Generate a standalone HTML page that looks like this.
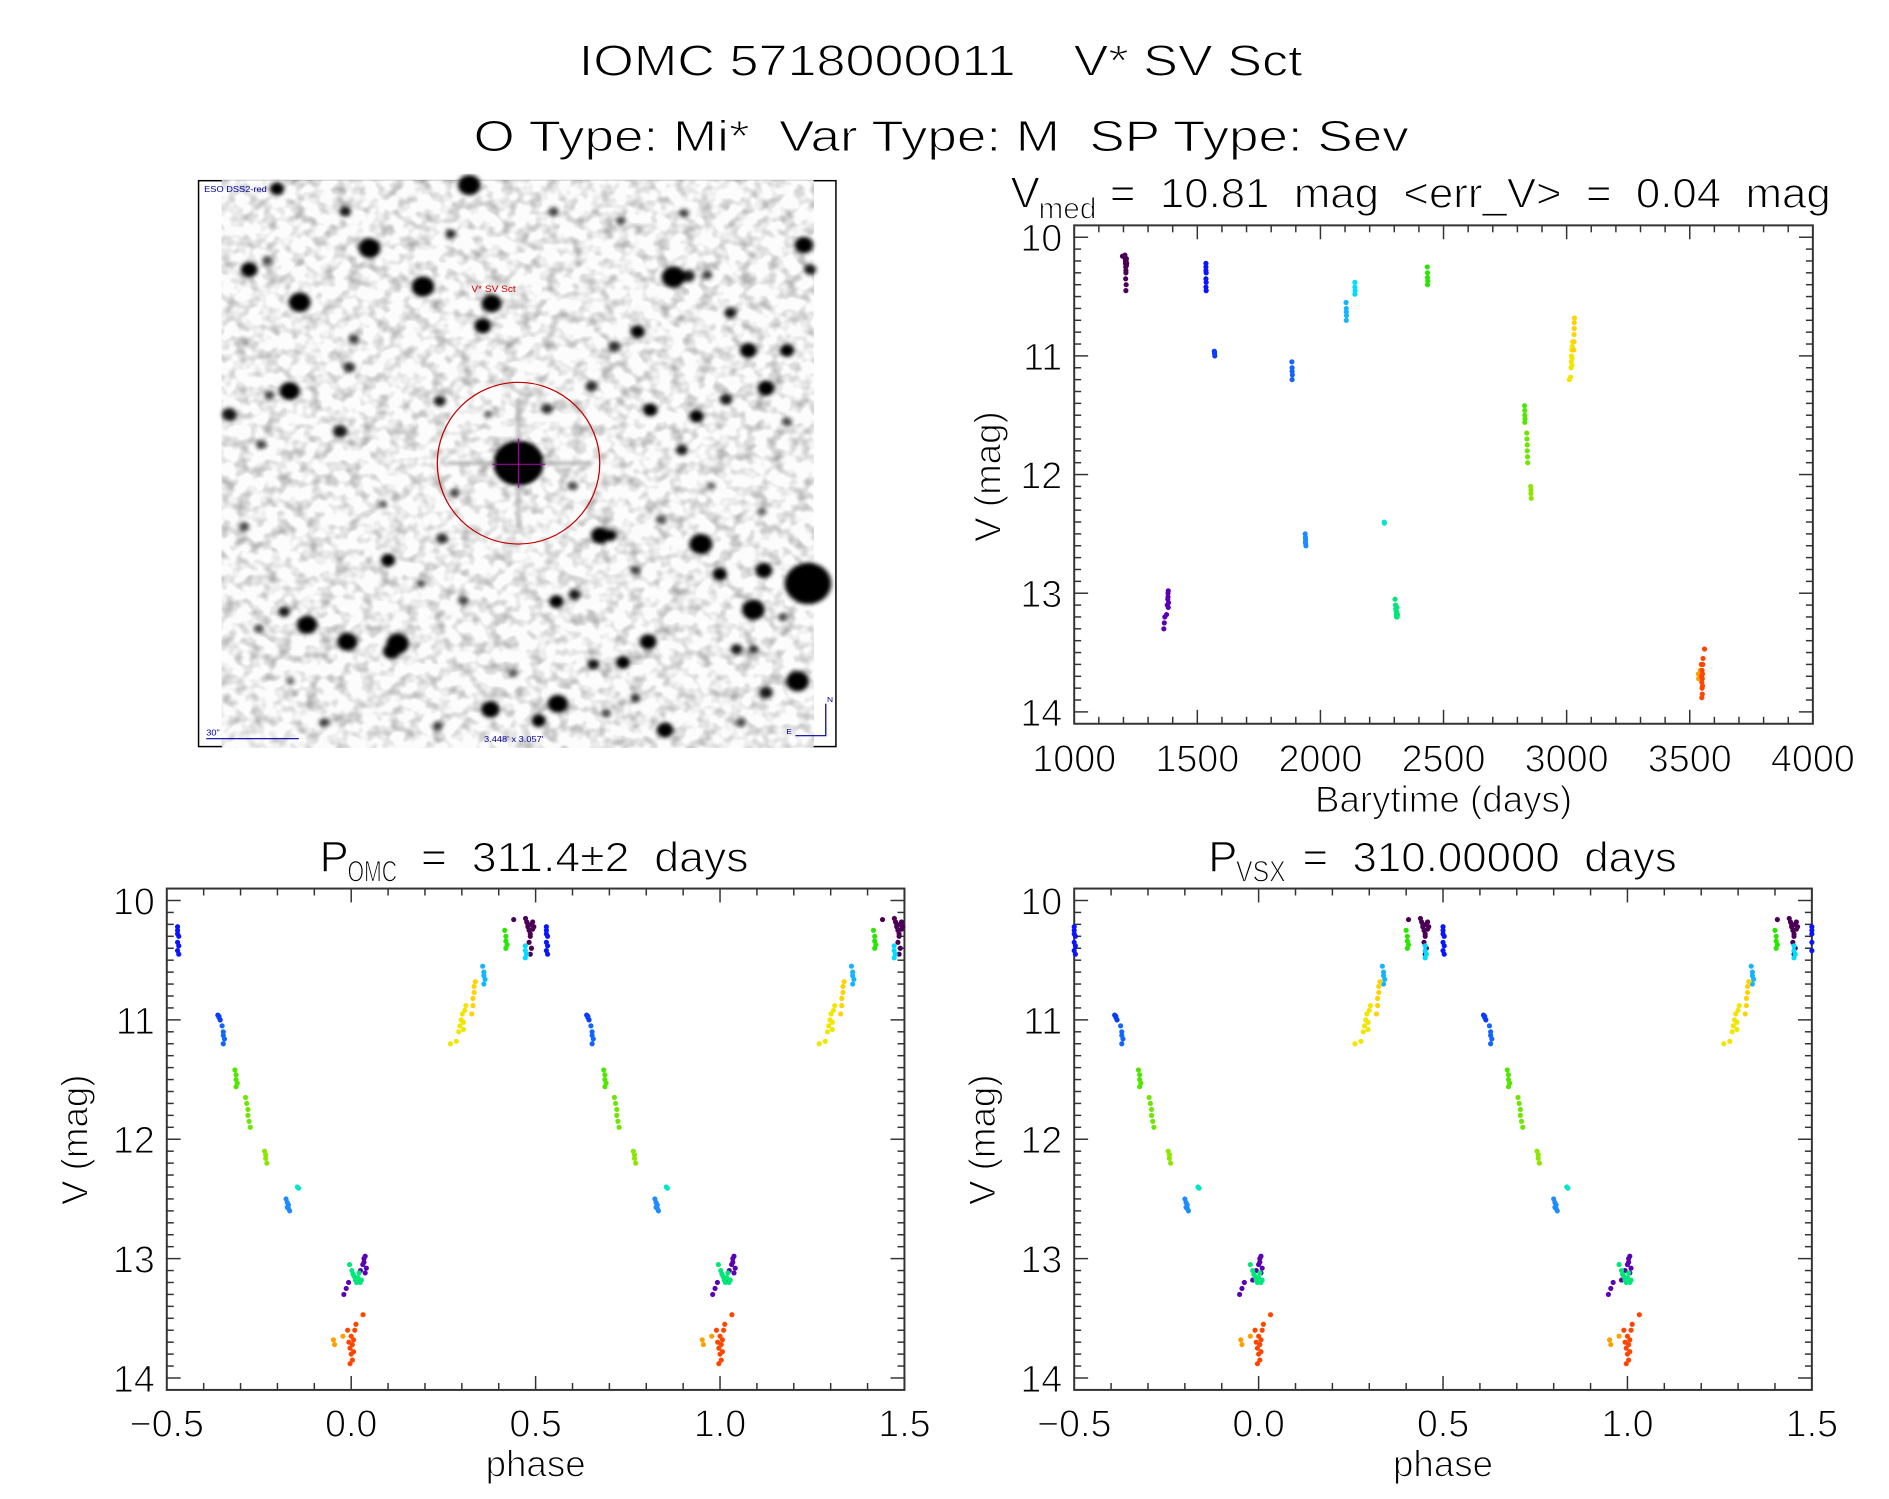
<!DOCTYPE html>
<html><head><meta charset="utf-8"><style>
html,body{margin:0;padding:0;background:#fff;}
svg text{font-family:"Liberation Sans",sans-serif;fill:#000;white-space:pre;stroke:#fff;stroke-width:1.1px;paint-order:normal;}
</style></head><body>
<svg id="root" width="1889" height="1494" viewBox="0 0 1889 1494" xmlns="http://www.w3.org/2000/svg">
<rect x="0" y="0" width="1889" height="1494" fill="#fff"/>
<g id="scaler" transform="scale(0.9928)">
<text x="583" y="76" font-size="44" textLength="729" lengthAdjust="spacingAndGlyphs">IOMC 5718000011    V* SV Sct</text>
<text x="477" y="152" font-size="44" textLength="942" lengthAdjust="spacingAndGlyphs">O Type: Mi*  Var Type: M  SP Type: Sev</text>

<g>
<rect x="200" y="182" width="642" height="570" fill="none" stroke="#000" stroke-width="1.5"/>
<svg id="sky" x="195" y="175" width="655" height="585" viewBox="0 0 1545 1545" preserveAspectRatio="none">
<defs><filter id="bl" x="-50%" y="-50%" width="200%" height="200%"><feGaussianBlur stdDeviation="6"/></filter>
<filter id="bl2" x="-50%" y="-50%" width="200%" height="200%"><feGaussianBlur stdDeviation="5"/></filter>
<filter id="tex" x="0" y="0" width="100%" height="100%"><feTurbulence type="fractalNoise" baseFrequency="0.03" numOctaves="2" seed="7"/><feColorMatrix type="matrix" values="0 0 0 0 0  0 0 0 0 0  0 0 0 0 0  0.7 0 0 0 -0.3"/></filter></defs>
<rect x="67" y="17" width="1406" height="1510" fill="#fcfcfc"/>
<rect x="67" y="17" width="1406" height="1510" fill="#000" filter="url(#tex)"/>
<g id="stars" filter="url(#bl)"></g>
<g filter="url(#bl2)">
<rect x="768" y="600" width="8" height="340" fill="#aaa"/>
<rect x="600" y="766" width="340" height="8" fill="#aaa"/>
<circle cx="772" cy="770" r="60" fill="#000"/>
</g>
<line x1="772" y1="705" x2="772" y2="835" stroke="#a000a0" stroke-width="3"/>
<line x1="710" y1="773" x2="835" y2="773" stroke="#a000a0" stroke-width="3"/>
<ellipse cx="772" cy="770" rx="193" ry="215" fill="none" stroke="#c00000" stroke-width="3"/>
<text x="660" y="315" font-size="24" style="fill:#d00000;stroke:none">V* SV Sct</text>
<text x="25" y="48" font-size="22" style="fill:#0000a0;stroke:none">ESO DSS2-red</text>
<text x="30" y="1495" font-size="22" style="fill:#0000a0;stroke:none">30"</text>
<line x1="30" y1="1503" x2="250" y2="1503" stroke="#0000a0" stroke-width="3"/>
<text x="690" y="1512" font-size="22" style="fill:#0000a0;stroke:none">3.448' x 3.057'</text>
<polyline points="1430,1495 1502,1495 1502,1410" fill="none" stroke="#0000a0" stroke-width="3"/>
<text x="1505" y="1405" font-size="20" style="fill:#0000a0;stroke:none">N</text>
<text x="1408" y="1490" font-size="20" style="fill:#0000a0;stroke:none">E</text>
</svg>
</g>
<g id="plots"></g>
</g>
</svg>
<script>
// ---- light curve data (time in days, V mag, color index) ----
const times=[1196,1206,1207,1208,1208,1209,1210,1210,1211,1212,1209,1211,1210,1212,1213,
1364,1366,1368,1375,1378,1380,1381,1382,1383,1382,1381,
1535,1535,1535,1536,1535,1536,1535,1536,
1569,1570,1571,1570,
1884,1885,1885,1886,1885,
1938,1939,1940,1940,1941,1939,
2104,2105,2105,2106,2105,
2140,2140,2141,2140,
2259,2260,
2303,2305,2306,2307,2308,2309,2310,2311,2312,2313,
2434,2435,2435,2436,2435,
2829,2830,2830,2831,2830,
2838,2839,2840,2840,2841,2842,
2854,2855,2855,2856,
3011,3016,3018,3019,3020,3021,3022,3023,3024,3022,
3029,3030,3030,3031,3031,3032,
3535,3536,3543,
3547,3548,3549,3550,3550,3551,3551,3552,3553,3552,3549,3554,3560];
const mags=[10.16,10.15,10.18,10.2,10.22,10.25,10.28,10.3,10.2,10.24,10.35,10.4,10.45,10.18,10.22,
13.3,13.25,13.2,13.18,13.1,13.05,13.0,12.98,13.08,13.12,13.03,
10.22,10.25,10.28,10.3,10.35,10.38,10.42,10.45,
10.96,10.98,11.0,10.97,
11.05,11.1,11.13,11.16,11.2,
12.5,12.53,12.55,12.58,12.6,12.57,
10.55,10.6,10.63,10.66,10.7,
10.38,10.42,10.45,10.48,
12.4,12.41,
13.05,13.1,13.13,13.15,13.18,13.2,13.16,13.12,13.2,13.18,
10.25,10.3,10.34,10.37,10.4,
11.42,11.46,11.5,11.53,11.56,
11.65,11.7,11.75,11.8,11.85,11.9,
12.1,12.13,12.16,12.2,
11.2,11.18,11.1,11.05,11.0,10.95,11.02,10.92,10.88,11.08,
10.95,10.88,10.82,10.77,10.72,10.68,
13.68,13.72,13.65,
13.6,13.7,13.75,13.65,13.8,13.72,13.85,13.68,13.6,13.78,13.88,13.55,13.47];
const colorIdx=[0,0,0,0,0,0,0,0,0,0,0,0,0,0,0,
1,1,1,1,1,1,1,1,1,1,1,
2,2,2,2,2,2,2,2,
3,3,3,3,
4,4,4,4,4,
5,5,5,5,5,5,
6,6,6,6,6,
7,7,7,7,
8,8,
9,9,9,9,9,9,9,9,9,9,
10,10,10,10,10,
11,11,11,11,11,
12,12,12,12,12,12,
13,13,13,13,
14,14,14,14,14,14,14,14,14,14,
15,15,15,15,15,15,
16,16,16,
17,17,17,17,17,17,17,17,17,17,17,17,17];
const palette=["#4b0055","#5a00b4","#0a14ff","#0a3cff","#1464ff","#1e8cff","#14b4ff","#00dcff","#00e6c8","#00e678","#28e600","#50e600","#6ee600","#8ce600","#f0e600","#ffd200","#ffa000","#ff4600"];
const periodOMC=311.4;
const periodVSX=310.0;
const epoch=3550;
const timeTicks=[1000,1500,2000,2500,3000,3500,4000];
const magTicks=[10,11,12,13,14];
const phaseTicks=[-0.5,0,0.5,1.0,1.5];
const phaseTickLabels=["\u22120.5","0.0","0.5","1.0","1.5"];

// ---- star field (finder image, zoom coords) ----
const stars=[[772,770,30,1],[418,198,26,1],[545,300,27,1],[252,342,26,1],[708,345,24,1],[687,405,20,1],[132,255,20,1],[175,230,12,.7],[228,578,24,1],[180,590,12,.7],[1140,275,28,1],[1175,272,16,.9],[1450,190,22,1],[1318,470,20,1],[1055,420,17,1],[1360,570,20,1],[1265,600,15,.9],[1085,628,17,1],[1195,645,17,1],[585,605,14,.9],[348,685,17,.9],[966,962,22,1],[990,962,15,1],[1205,985,27,1],[1250,1065,17,1],[1355,1055,20,1],[1460,1090,55,1],[1330,1160,27,1],[270,1200,24,1],[365,1245,24,1],[485,1250,27,1],[470,1270,20,1],[462,1028,17,1],[862,1138,17,1],[905,1120,14,.9],[1080,1245,20,1],[1020,1300,17,1],[950,1305,14,.9],[1435,1350,27,1],[705,1425,22,1],[865,1410,24,1],[820,1455,17,1],[1120,1480,20,1],[655,30,27,1],[198,40,17,1],[360,100,14,.9],[610,160,12,.8],[85,640,17,.9],[1160,735,14,.9],[1410,470,17,1],[215,1165,14,.9],[1290,1265,14,.9],[1050,1395,12,.8],[1000,460,14,.8],[370,515,14,.8],[380,440,12,.7],[1275,370,14,.9],[1330,1265,12,.8],[1220,270,12,.7],[1015,125,12,.7],[855,100,12,.7],[1165,105,12,.7],[1465,255,14,.9],[945,565,14,.8],[1360,1380,16,.9],[155,1210,12,.7],[590,970,14,.8],[1110,920,12,.7],[640,1135,12,.7],[310,1460,12,.7],[580,1470,12,.7],[980,1435,12,.7],[120,940,12,.7],[1050,1055,12,.7],[1410,660,12,.7],[1300,1460,12,.7],[160,720,12,.7],[900,830,12,.7],[620,850,12,.7],[840,625,14,.8],[700,640,10,.6],[230,1350,10,.6],[760,1330,10,.6],[450,880,10,.6],[1230,830,10,.6],[1350,900,10,.6],[540,1090,11,.7],[1400,1180,11,.7]];
const NS='http://www.w3.org/2000/svg';
const sg=document.getElementById('stars');
stars.forEach(s=>{const c=document.createElementNS(NS,'circle');
c.setAttribute('cx',s[0]);c.setAttribute('cy',s[1]);c.setAttribute('r',s[2]);
c.setAttribute('fill','#000');c.setAttribute('fill-opacity',s[3]);


sg.appendChild(c);});

const P=document.getElementById('plots');
function mk(tag,attrs,parent){const e=document.createElementNS(NS,tag);for(const k in attrs)e.setAttribute(k,attrs[k]);(parent||P).appendChild(e);return e;}
function txt(s,x,y,size,anchor,parent){const t=mk('text',{x:x,y:y,'font-size':size,'text-anchor':anchor||'start'},parent);t.textContent=s;return t;}

function frame(L,T,W,H,xmin,xmax,xmajor,xminor,name){
  const g=mk('g',{});
  
  
  mk('rect',{x:L,y:T,width:W,height:H,fill:'none',stroke:'#333','stroke-width':2},g);
  const ym=m=>T+(m-9.9)/4.2*H;
  for(let i=0;i<=40;i++){const m=10+i*0.1;const y=ym(m);const len=(i%10==0)?14:7;
    mk('line',{x1:L,y1:y,x2:L+len,y2:y,stroke:'#333','stroke-width':1.5},g);
    mk('line',{x1:L+W,y1:y,x2:L+W-len,y2:y,stroke:'#333','stroke-width':1.5},g);}
  const n=Math.round((xmax-xmin)/xminor);
  for(let i=0;i<=n;i++){const v=xmin+i*xminor;const x=L+(v-xmin)/(xmax-xmin)*W;const maj=Math.abs((v-xmin)/xmajor-Math.round((v-xmin)/xmajor))<1e-6;const len=maj?14:7;
    mk('line',{x1:x,y1:T+H,x2:x,y2:T+H-len,stroke:'#333','stroke-width':1.5},g);
    mk('line',{x1:x,y1:T,x2:x,y2:T+len,stroke:'#333','stroke-width':1.5},g);}
  magTicks.forEach(m=>{const t=txt(String(m),L-12,ym(m)+14,38,'end',g);
    
    });
  return g;
}
function ylabel(x,y){const t=txt('V (mag)',x,y,37,'middle');t.setAttribute('transform','rotate(-90 '+x+' '+y+')');
  
  }
function dot(x,y,c,parent){const d=mk('circle',{cx:x,cy:y,r:2.6,fill:c},parent);
  
  }

// ---- top-right: time series ----
(function(){
  const L=1082,T=227,W=744,H=502;
  frame(L,T,W,H,1000,4000,500,100,'time-series-plot');
  const xs=t=>L+(t-1000)/3000*W, ys=m=>T+(m-9.9)/4.2*H;
  const g=mk('g',{});
  
  
  times.forEach((t,i)=>dot(xs(t),ys(mags[i]),palette[colorIdx[i]],g));
  timeTicks.forEach(v=>{const t=txt(String(v),xs(v),777,38,'middle');
    
    });
  const xt=txt('Barytime (days)',1454,818,37,'middle');
  
  
  ylabel(1008,480);
  const tg=mk('g',{});
  
  
  txt('V',1018,209,44,'start',tg);
  txt('med',1046,220,30,'start',tg);
  const r=txt('=  10.81  mag  <err_V>  =  0.04  mag',1118,209,42,'start',tg);
  r.setAttribute('textLength','726');r.setAttribute('lengthAdjust','spacingAndGlyphs');
})();

// ---- phase plots ----
function phasePlot(L,period,name,sub,subX,restX,restLen){
  const T=895,W=743,H=505;
  frame(L,T,W,H,-0.5,1.5,0.5,0.1,name);
  const xs=p=>L+(p+0.5)/2*W, ys=m=>T+(m-9.9)/4.2*H;
  const g=mk('g',{});
  
  
  times.forEach((t,i)=>{let ph=((t-epoch)/period)%1; if(ph<0)ph+=1;
    [ph-1,ph,ph+1].forEach(p=>{if(p>=-0.5&&p<=1.5)dot(xs(p),ys(mags[i]),palette[colorIdx[i]],g);});});
  phaseTicks.forEach((v,i)=>{const t=txt(phaseTickLabels[i],xs(v),1447,38,'middle');
    
    });
  const xt=txt('phase',L+W/2,1487,37,'middle');
  
  
  ylabel(L-80,1148);
  const tg=mk('g',{});
  
  
  txt('P',subX-28,878,44,'start',tg);
  const s=txt(sub,subX,888,30,'start',tg);s.setAttribute('textLength','50');s.setAttribute('lengthAdjust','spacingAndGlyphs');
  const r=txt(restLen[0],restX,878,42,'start',tg);r.setAttribute('textLength',restLen[1]);r.setAttribute('lengthAdjust','spacingAndGlyphs');
}
phasePlot(168,periodOMC,'phase-plot-omc','OMC',350,424,['=  311.4\u00b12  days','330']);
phasePlot(1082,periodVSX,'phase-plot-vsx','VSX',1245,1312,['=  310.00000  days','377']);
</script>
</body></html>
